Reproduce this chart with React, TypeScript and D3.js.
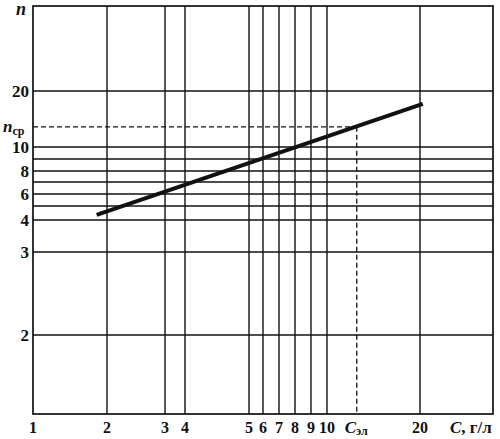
import React from "react";
import * as d3 from "d3";

// ---- data ----
const xGridValues = [2, 3, 4, 5, 6, 7, 8, 9, 10, 20];
const xTickLabels = ["1", "2", "3", "4", "5", "6", "7", "8", "9", "10", "20"];
const xTickValues = [1, 2, 3, 4, 5, 6, 7, 8, 9, 10, 20];
const yGridValues = [2, 3, 4, 5, 6, 7, 8, 9, 10, 20];
const yTickValues = [2, 3, 4, 6, 8, 10, 20];
const yTickLabels = ["2", "3", "4", "6", "8", "10", "20"];
const lineC = [1.86, 20.3];
const lineN = [4.36, 17.7];
const cEl = 13.2;
const nSr = 13.6;

// ---- layout ----
const W = 500;
const H = 439;
const left = 33;
const right = 493;
const top = 6;
const bottom = 414;
// the figure's (hand-drawn, non-uniform) logarithmic grid, as fractions of the plot
const xDomain = [1, 2, 3, 4, 5, 6, 7, 8, 9, 10, 20];
const xFrac = [0, 0.1609, 0.287, 0.3304, 0.4696, 0.5, 0.5348, 0.5696, 0.6043, 0.6391, 0.8413];
const yDomain = [1, 2, 3, 4, 5, 6, 7, 8, 9, 10, 20];
const yFrac = [0, 0.1936, 0.3971, 0.4755, 0.5098, 0.5392, 0.5686, 0.5956, 0.625, 0.6544, 0.7917];

const FONT = "'Liberation Serif', 'Times New Roman', serif";

export default function App() {
  const x = d3
    .scaleLinear()
    .domain(xDomain)
    .range(xFrac.map((f) => left + f * (right - left)));
  const y = d3
    .scaleLinear()
    .domain(yDomain)
    .range(yFrac.map((f) => bottom - f * (bottom - top)));

  const linePath = d3
    .line<number>()
    .x((_, i) => x(lineC[i]))
    .y((_, i) => y(lineN[i]))(lineC) as string;

  const ink = "#111";

  return (
    <svg
      width={W}
      height={H}
      viewBox={`0 0 ${W} ${H}`}
      style={{ position: "absolute", left: 0, top: 0, background: "#fff" }}
    >
      <rect x={0} y={0} width={W} height={H} fill="#fff" />
      {/* grid */}
      {yGridValues.map((v) => (
        <line key={"h" + v} x1={left} x2={right} y1={y(v)} y2={y(v)} stroke={ink} strokeWidth={1.4} />
      ))}
      {xGridValues.map((v) => (
        <line key={"v" + v} x1={x(v)} x2={x(v)} y1={top} y2={bottom} stroke={ink} strokeWidth={1.4} />
      ))}
      {/* frame */}
      <rect x={left} y={top} width={right - left} height={bottom - top} fill="none" stroke={ink} strokeWidth={1.7} />
      {/* dashed guides */}
      <line x1={left} x2={x(cEl)} y1={y(nSr)} y2={y(nSr)} stroke={ink} strokeWidth={1.3} strokeDasharray="5,3" />
      <line x1={x(cEl)} x2={x(cEl)} y1={y(nSr)} y2={bottom} stroke={ink} strokeWidth={1.3} strokeDasharray="5,3" />
      {/* curve */}
      <path d={linePath} fill="none" stroke={ink} strokeWidth={4} strokeLinecap="butt" />

      {/* y labels */}
      {yTickValues.map((v, i) => (
        <text
          key={"yl" + v}
          x={29}
          y={y(v)}
          dy="0.35em"
          textAnchor="end"
          fontFamily={FONT}
          fontWeight="bold"
          fontSize={17}
          fill={ink}
        >
          {yTickLabels[i]}
        </text>
      ))}
      <text x={3} y={y(nSr)} dy="0.3em" fontFamily={FONT} fontWeight="bold" fontSize={17} fill={ink}>
        <tspan fontStyle="italic">n</tspan>
        <tspan fontSize={12} dy="3">ср</tspan>
      </text>
      <text x={16} y={15} fontFamily={FONT} fontWeight="bold" fontStyle="italic" fontSize={18} fill={ink}>
        n
      </text>

      {/* x labels */}
      {xTickValues.map((v, i) => (
        <text
          key={"xl" + v}
          x={x(v)}
          y={433}
          textAnchor="middle"
          fontFamily={FONT}
          fontWeight="bold"
          fontSize={16}
          fill={ink}
        >
          {xTickLabels[i]}
        </text>
      ))}
      <text x={x(cEl) - 12} y={433} fontFamily={FONT} fontWeight="bold" fontSize={17} fill={ink}>
        <tspan fontStyle="italic">C</tspan>
        <tspan fontSize={12} dy="2">эл</tspan>
      </text>
      <text x={450} y={433} fontFamily={FONT} fontWeight="bold" fontSize={17} fill={ink}>
        <tspan fontStyle="italic">C</tspan>
        <tspan>, г/л</tspan>
      </text>
    </svg>
  );
}
